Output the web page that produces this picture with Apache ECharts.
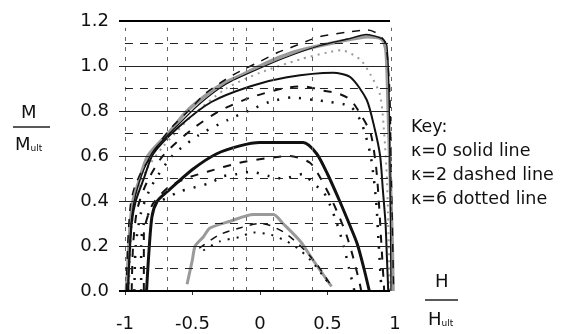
<!DOCTYPE html>
<html><head><meta charset="utf-8">
<script src="https://cdn.jsdelivr.net/npm/echarts@6/dist/echarts.min.js"></script>
<style>html,body{margin:0;padding:0;background:#fff}#c{width:564px;height:334px}</style>
</head><body><div id="c"></div>
<script>
// ---- data ----
const xTickValues = [-1, -0.5, 0, 0.5, 1];
const xTickMarks = [-1, -0.5, 0, 0.5];
const gridSolid = [0.2, 0.4, 0.6, 0.8, 1.0];
const gridBold = [0, 1.2];
const gridDashed = [0.1, 0.3, 0.5, 0.7, 0.9, 1.1];
const gridVertical = [-1, -0.69, -0.2, -0.1, 0.1, 0.39, 0.97];
const keyLines = ['Key:', 'κ=0 solid line', 'κ=2 dashed line', 'κ=6 dotted line'];

const A_solid = [[-0.99,0],[-0.975,0.15],[-0.96,0.3],[-0.94,0.4],[-0.9,0.48],[-0.83,0.6],[-0.68,0.7],[-0.54,0.8],[-0.4,0.87],[-0.28,0.92],[-0.1,0.97],[0,1.0],[0.15,1.04],[0.3,1.07],[0.6,1.11],[0.8,1.13],[0.9,1.12],[0.93,1.08],[0.94,1.0],[0.95,0.8],[0.96,0.6],[0.97,0.4],[0.98,0.2],[0.985,0]];
const A_black = [[-0.98,0],[-0.965,0.2],[-0.95,0.33],[-0.92,0.43],[-0.86,0.54],[-0.78,0.63],[-0.62,0.73],[-0.45,0.83],[-0.25,0.92],[0,0.99],[0.2,1.04],[0.44,1.09],[0.65,1.12],[0.79,1.14],[0.91,1.12],[0.94,1.09],[0.955,0.9],[0.96,0.7],[0.965,0.4],[0.97,0]];
const A_dashed = [[-0.99,0],[-0.98,0.2],[-0.96,0.38],[-0.93,0.46],[-0.87,0.54],[-0.8,0.6],[-0.73,0.67],[-0.65,0.73],[-0.53,0.8],[-0.4,0.88],[-0.2,0.96],[0,1.02],[0.13,1.06],[0.22,1.08],[0.44,1.13],[0.64,1.15],[0.8,1.16],[0.88,1.14],[0.93,1.1],[0.96,0.9],[0.97,0.6],[0.98,0.3],[0.99,0]];
const A_dotted = [[-0.97,0],[-0.955,0.25],[-0.92,0.42],[-0.85,0.53],[-0.72,0.64],[-0.5,0.78],[-0.25,0.9],[0,0.97],[0.3,1.03],[0.5,1.06],[0.6,1.07],[0.74,1.03],[0.82,0.96],[0.89,0.87],[0.92,0.7],[0.94,0.5],[0.95,0.3],[0.96,0]];

const B_solid = [[-0.975,0],[-0.97,0.1],[-0.95,0.3],[-0.92,0.4],[-0.86,0.5],[-0.79,0.61],[-0.6,0.73],[-0.36,0.84],[-0.07,0.91],[0.2,0.95],[0.54,0.97],[0.67,0.95],[0.79,0.85],[0.85,0.72],[0.89,0.6],[0.91,0.45],[0.93,0.3],[0.94,0.15],[0.95,0]];
const B_dashed = [[-0.95,0],[-0.94,0.2],[-0.91,0.36],[-0.84,0.48],[-0.72,0.6],[-0.5,0.72],[-0.3,0.8],[-0.07,0.86],[0.17,0.9],[0.32,0.91],[0.47,0.89],[0.57,0.88],[0.67,0.85],[0.75,0.78],[0.82,0.7],[0.86,0.55],[0.88,0.4],[0.9,0.2],[0.92,0]];
const B_dotted = [[-0.93,0],[-0.92,0.2],[-0.88,0.35],[-0.8,0.47],[-0.65,0.6],[-0.46,0.69],[-0.24,0.76],[-0.05,0.81],[0.07,0.84],[0.24,0.86],[0.39,0.85],[0.52,0.84],[0.67,0.82],[0.75,0.75],[0.82,0.6],[0.86,0.4],[0.88,0.2],[0.9,0]];

const C_solid = [[-0.84,0],[-0.825,0.15],[-0.8,0.33],[-0.76,0.4],[-0.69,0.44],[-0.5,0.54],[-0.32,0.61],[-0.15,0.645],[0,0.66],[0.32,0.66],[0.42,0.61],[0.5,0.52],[0.59,0.4],[0.66,0.3],[0.72,0.21],[0.77,0.1],[0.81,0]];
const C_dashed = [[-0.86,0],[-0.86,0.15],[-0.86,0.25],[-0.8,0.38],[-0.68,0.46],[-0.55,0.5],[-0.39,0.53],[-0.15,0.57],[0.05,0.59],[0.22,0.6],[0.37,0.57],[0.45,0.5],[0.52,0.42],[0.58,0.34],[0.64,0.25],[0.69,0.15],[0.74,0.03],[0.75,0]];
const C_dotted = [[-0.88,0],[-0.88,0.2],[-0.86,0.3],[-0.78,0.38],[-0.6,0.44],[-0.37,0.48],[-0.27,0.51],[-0.17,0.52],[-0.07,0.53],[0.07,0.51],[0.17,0.5],[0.32,0.52],[0.39,0.48],[0.47,0.44],[0.52,0.38],[0.57,0.3],[0.62,0.2],[0.66,0.1],[0.7,0]];

const D_solid = [[-0.54,0.03],[-0.5,0.14],[-0.48,0.2],[-0.42,0.24],[-0.37,0.28],[-0.22,0.31],[-0.05,0.34],[0.1,0.34],[0.17,0.3],[0.3,0.22],[0.39,0.14],[0.53,0.02]];
const D_dashed = [[-0.45,0.19],[-0.3,0.25],[-0.15,0.28],[0,0.3],[0.08,0.29],[0.18,0.26],[0.3,0.2],[0.42,0.12],[0.52,0.03]];
const D_dotted = [[-0.42,0.18],[-0.3,0.22],[-0.15,0.24],[-0.05,0.26],[0.08,0.25],[0.2,0.22],[0.3,0.18],[0.4,0.12],[0.5,0.04]];

// ---- chart ----
const FONT = 'DejaVu Sans';
const X_MIN = -1.044, X_MAX = 1.0, X_GRID_END = 0.963;
const GREY = '#9a9a9a', BLACK = '#111';

function hLines(vals, x0, x1) {
  return vals.map(v => [{coord: [x0, v]}, {coord: [x1, v]}]);
}
function vLines(vals) {
  return vals.map(v => [{coord: [v, 0]}, {coord: [v, 1.17]}]);
}
function curve(data, color, width, type, z) {
  return {type: 'line', data: data, showSymbol: false, smooth: 0.25, silent: true, z: z || 3,
    lineStyle: {color: color, width: width, type: type}};
}
function guide(lines, color, width, type) {
  return {type: 'line', data: [], silent: true, z: 1,
    markLine: {symbol: 'none', silent: true, label: {show: false}, animation: false,
      lineStyle: {color: color, width: width, type: type}, data: lines}};
}

const chart = echarts.init(document.getElementById('c'));
chart.setOption({
  animation: false,
  backgroundColor: '#fff',
  grid: {left: 119, right: 169, top: 21, bottom: 43},
  xAxis: {type: 'value', min: X_MIN, max: X_MAX,
    axisLine: {show: false}, splitLine: {show: false},
    axisTick: {show: true, customValues: xTickMarks, length: 4, lineStyle: {color: '#333'}},
    axisLabel: {customValues: xTickValues, margin: 24, fontFamily: FONT, fontSize: 18, color: '#111',
      formatter: v => String(v)}},
  yAxis: {type: 'value', min: 0, max: 1.2, interval: 0.2,
    axisLine: {show: false}, splitLine: {show: false}, axisTick: {show: false},
    axisLabel: {margin: 10, fontFamily: FONT, fontSize: 18, color: '#111', formatter: v => v.toFixed(1)}},
  series: [
    guide(vLines(gridVertical), '#666', 1, [4, 6]),
    guide(hLines(gridDashed, -1, 0.975), '#222', 1, [8, 7]),
    guide(hLines(gridSolid, X_MIN, X_GRID_END), '#222', 1, 'solid'),
    guide(hLines(gridBold, X_MIN, X_GRID_END), '#000', 2, 'solid'),
    curve(A_solid, GREY, 3.5, 'solid', 3),
    curve(A_dotted, GREY, 2, [2, 5], 3),
    curve(A_black, BLACK, 1.3, 'solid', 4),
    curve(A_dashed, BLACK, 1.5, [8, 8], 4),
    curve(B_solid, BLACK, 2, 'solid', 4),
    curve(B_dashed, BLACK, 2, [8, 9], 4),
    curve(B_dotted, BLACK, 2.5, [2, 9], 4),
    curve(C_solid, BLACK, 3, 'solid', 4),
    curve(C_dashed, BLACK, 2, [8, 9], 4),
    curve(C_dotted, BLACK, 2.5, [2, 9], 4),
    curve(D_solid, GREY, 3, 'solid', 3),
    curve(D_dashed, BLACK, 1.5, [7, 7], 4),
    curve(D_dotted, BLACK, 2, [2, 7], 4)
  ],
  graphic: [
    {type: 'text', left: 21, top: 104, style: {text: 'M', font: '18px ' + FONT, fill: '#111'}},
    {type: 'line', shape: {x1: 13, y1: 127, x2: 50, y2: 127}, style: {stroke: '#222', lineWidth: 1.5}},
    {type: 'text', left: 15, top: 136, style: {text: '{a|M}{b|ult}', fill: '#111',
      rich: {a: {font: '18px ' + FONT, fill: '#111'}, b: {font: '9px ' + FONT, fill: '#111', padding: [8, 0, 0, 0]}}}},
    {type: 'text', left: 435, top: 273, style: {text: 'H', font: '18px ' + FONT, fill: '#111'}},
    {type: 'line', shape: {x1: 425, y1: 300, x2: 458, y2: 300}, style: {stroke: '#222', lineWidth: 1.5}},
    {type: 'text', left: 428, top: 311, style: {text: '{a|H}{b|ult}', fill: '#111',
      rich: {a: {font: '18px ' + FONT, fill: '#111'}, b: {font: '9px ' + FONT, fill: '#111', padding: [8, 0, 0, 0]}}}},
    ...keyLines.map((t, i) => ({type: 'text', left: 411, top: 118 + i * 24,
      style: {text: t, font: '17.5px ' + FONT, fill: '#111'}}))
  ]
});
</script></body></html>
